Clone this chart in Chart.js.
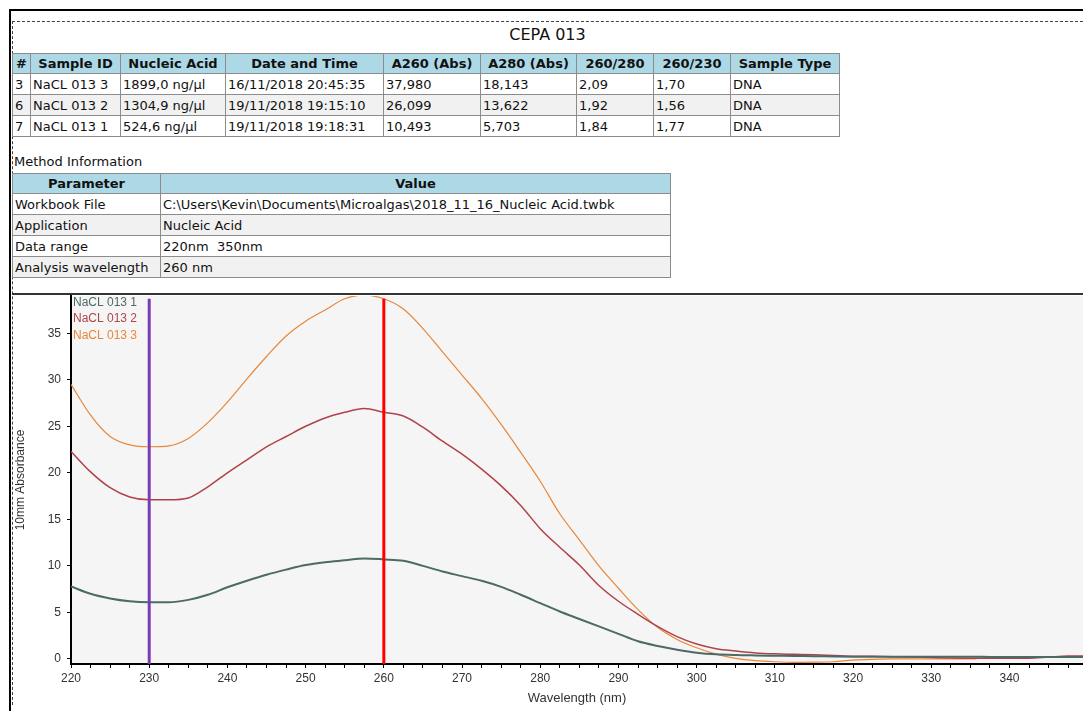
<!DOCTYPE html>
<html>
<head>
<meta charset="utf-8">
<title>CEPA 013</title>
<script src="https://cdn.jsdelivr.net/npm/chart.js@4/dist/chart.umd.min.js"></script>
<style>
  html, body { margin: 0; padding: 0; background: #fff; }
  body {
    width: 1083px; height: 711px; position: relative; overflow: hidden;
    font-family: "DejaVu Sans", Verdana, sans-serif; font-size: 13px; color: #111;
  }
  .frame-top { position: absolute; left: 9px; top: 9px; width: 1074px; height: 2px; background: #000; }
  .frame-left { position: absolute; left: 9px; top: 9px; width: 2px; height: 702px; background: #000; }
  .dash-top { position: absolute; left: 12px; top: 21px; width: 1071px; border-top: 1px dashed #444; }
  .dash-left { position: absolute; left: 12px; top: 21px; height: 684px; border-left: 1px dashed #444; }
  #title { position: absolute; left: 12px; width: 1071px; top: 25px; text-align: center; font-size: 16px; }
  table { position: absolute; border-collapse: collapse; table-layout: fixed; }
  td, th { border: 1px solid #8c8c8c; padding: 0 2px; white-space: pre; overflow: hidden; }
  th { background: #add8e6; font-weight: bold; text-align: center; height: 19px; }
  td { text-align: left; height: 20px; }
  tr.alt td { background: #f1f1f1; }
  #sampleTable { left: 12px; top: 53px; }
  #methodTable { left: 12px; top: 173px; }
  #methodLabel { position: absolute; left: 14px; top: 154px; }
  #chartBox { position: absolute; left: 12px; top: 293px; width: 1071px; height: 416px; border-top: 2px solid #333; }
</style>
</head>
<body>
<div class="frame-top"></div>
<div class="frame-left"></div>
<div class="dash-top"></div>
<div class="dash-left"></div>
<div id="title"></div>
<table id="sampleTable"></table>
<div id="methodLabel">Method Information</div>
<table id="methodTable"></table>
<div id="chartBox"><canvas id="spectrum"></canvas></div>

<script>
// Report header and tables
const reportTitle = 'CEPA 013';
const sampleHeaders = ['#', 'Sample ID', 'Nucleic Acid', 'Date and Time', 'A260 (Abs)', 'A280 (Abs)', '260/280', '260/230', 'Sample Type'];
const sampleColWidths = [18, 90, 105, 158, 97, 96, 77, 77, 109];
const sampleRows = [
  ['3', 'NaCL 013 3', '1899,0 ng/µl', '16/11/2018 20:45:35', '37,980', '18,143', '2,09', '1,70', 'DNA'],
  ['6', 'NaCL 013 2', '1304,9 ng/µl', '19/11/2018 19:15:10', '26,099', '13,622', '1,92', '1,56', 'DNA'],
  ['7', 'NaCL 013 1', '524,6 ng/µl', '19/11/2018 19:18:31', '10,493', '5,703', '1,84', '1,77', 'DNA']
];
const methodHeaders = ['Parameter', 'Value'];
const methodColWidths = [148, 510];
const methodRows = [
  ['Workbook File', 'C:\\Users\\Kevin\\Documents\\Microalgas\\2018_11_16_Nucleic Acid.twbk'],
  ['Application', 'Nucleic Acid'],
  ['Data range', '220nm  350nm'],
  ['Analysis wavelength', '260 nm']
];

// Spectrum data (10mm absorbance)
const wavelengths = [
  220, 222.5, 225, 227.5, 230, 232.5, 235, 237.5, 240, 242.5, 245, 247.5, 250, 252.5, 255, 257.5, 260,
  262.5, 265, 267.5, 270, 272.5, 275, 277.5, 280, 282.5, 285, 287.5, 290, 292.5, 295, 297.5, 300,
  302.5, 305, 307.5, 310, 312.5, 315, 317.5, 320, 322.5, 325, 327.5, 330, 332.5, 335, 337.5, 340, 342.5, 345, 347.5, 350
];
const seriesLabels = ['NaCL 013 1', 'NaCL 013 2', 'NaCL 013 3'];
const seriesColors = ['#4d6a66', '#b0434a', '#e8873a'];
const seriesWidths = [2, 1.5, 1.2];
const nacl0131 = [
  7.8, 7.0, 6.5, 6.2, 6.1, 6.1, 6.35, 6.9, 7.7, 8.4, 9.05, 9.6, 10.1, 10.4, 10.6, 10.8, 10.7,
  10.55, 10.0, 9.4, 8.9, 8.4, 7.75, 6.9, 6.0, 5.1, 4.3, 3.5, 2.7, 1.9, 1.4, 1.0, 0.68,
  0.5, 0.42, 0.38, 0.35, 0.32, 0.3, 0.27, 0.25, 0.25, 0.25, 0.25, 0.25, 0.25, 0.25, 0.22, 0.2, 0.2, 0.2, 0.2, 0.2
];
const nacl0132 = [
  22.3, 20.1, 18.4, 17.4, 17.1, 17.1, 17.3, 18.5, 20.0, 21.4, 22.8, 23.9, 25.0, 25.9, 26.5, 26.9, 26.5,
  26.1, 24.9, 23.4, 22.0, 20.4, 18.6, 16.5, 14.0, 12.0, 10.1, 7.9, 6.2, 4.8, 3.5, 2.4, 1.6,
  1.1, 0.85, 0.65, 0.55, 0.5, 0.45, 0.38, 0.3, 0.28, 0.25, 0.2, 0.15, 0.1, 0.08, 0.08, 0.08, 0.08, 0.2, 0.32, 0.32
];
const nacl0133 = [
  29.5, 26.2, 23.9, 23.0, 22.8, 22.9, 23.7, 25.4, 27.6, 30.1, 32.5, 34.7, 36.3, 37.5, 38.7, 39.1, 38.7,
  37.6, 35.5, 33.0, 30.5, 28.0, 25.2, 22.2, 19.1, 15.6, 12.8, 10.0, 7.6, 5.3, 3.4, 2.1, 1.2,
  0.52, 0.06, -0.18, -0.3, -0.36, -0.34, -0.3, -0.12, -0.04, 0.0, 0.0, 0.0, 0.0, 0.0, 0.18, 0.2, 0.22, 0.24, 0.25, 0.25
];

// Marker lines (baseline 230 nm, analysis 260 nm)
const markerWavelengths = [230, 260];
const markerColors = ['#7a3cb4', '#ff0000'];
const markerTop = 38.7;

// Axis ranges
const xMin = 220, xMax = 349.4;
const yMin = -0.54, yMax = 39.0;

function buildTable(el, headers, widths, rows) {
  let html = '<colgroup>' + widths.map(w => `<col style="width:${w}px">`).join('') + '</colgroup>';
  html += '<tr>' + headers.map(h => `<th>${h}</th>`).join('') + '</tr>';
  rows.forEach((r, i) => {
    html += `<tr${i % 2 === 1 ? ' class="alt"' : ''}>` + r.map(c => `<td>${c}</td>`).join('') + '</tr>';
  });
  el.innerHTML = html;
}

document.getElementById('title').textContent = reportTitle;
buildTable(document.getElementById('sampleTable'), sampleHeaders, sampleColWidths, sampleRows);
buildTable(document.getElementById('methodTable'), methodHeaders, methodColWidths, methodRows);

const seriesValues = [nacl0131, nacl0132, nacl0133];

// Plot area background
const plotBg = {
  id: 'plotBg',
  beforeDraw(chart) {
    const { ctx, chartArea: a } = chart;
    ctx.save();
    ctx.fillStyle = '#f5f5f5';
    ctx.fillRect(a.left, a.top, a.right - a.left, a.bottom - a.top);
    ctx.restore();
  }
};

// Sample names in the top-left corner of the plot
const legendText = {
  id: 'legendText',
  afterDatasetsDraw(chart) {
    const { ctx, chartArea } = chart;
    ctx.save();
    ctx.font = '12px "Liberation Sans", Arial, sans-serif';
    ctx.textBaseline = 'middle';
    chart.data.datasets.filter(d => d.sample).forEach((d, i) => {
      ctx.fillStyle = d.borderColor;
      ctx.fillText(d.label, chartArea.left + 2, chartArea.top + 6.7 + i * 16.3);
    });
    ctx.restore();
  }
};

const markerSets = markerWavelengths.map((w, i) => ({
  label: w + ' nm',
  data: [{ x: w, y: yMin }, { x: w, y: markerTop }],
  borderColor: markerColors[i],
  borderWidth: 3,
  pointRadius: 0
}));

const sampleSets = seriesLabels.map((name, i) => ({
  label: name,
  sample: true,
  data: wavelengths.map((w, j) => ({ x: w, y: seriesValues[i][j] })),
  borderColor: seriesColors[i],
  borderWidth: seriesWidths[i],
  pointRadius: 0,
  cubicInterpolationMode: 'monotone'
}));

const tickFont = { family: '"Liberation Sans", Arial, sans-serif', size: 12 };

new Chart(document.getElementById('spectrum').getContext('2d'), {
  type: 'line',
  data: { datasets: markerSets.concat(sampleSets) },
  options: {
    responsive: true,
    maintainAspectRatio: false,
    animation: false,
    layout: { padding: { top: 1, left: 0, right: 0, bottom: 0 } },
    plugins: {
      legend: { display: false },
      tooltip: { enabled: false }
    },
    scales: {
      x: {
        type: 'linear',
        min: xMin,
        max: xMax,
        border: { display: true, color: '#000', width: 2 },
        grid: { drawOnChartArea: false, drawTicks: true, tickLength: 4, color: '#000' },
        ticks: {
          stepSize: 2.5,
          includeBounds: false,
          autoSkip: false,
          maxRotation: 0,
          minRotation: 0,
          padding: 3,
          color: '#333',
          font: tickFont,
          callback: v => (v % 10 === 0 ? String(v) : '')
        },
        title: {
          display: true,
          text: 'Wavelength (nm)',
          color: '#333',
          font: { family: '"Liberation Sans", Arial, sans-serif', size: 13 },
          padding: { top: 0, bottom: 5 }
        },
        afterFit(s) {
          s.height = 47;
          s.paddingLeft = 0;
          s.paddingRight = 0;
        }
      },
      y: {
        min: yMin,
        max: yMax,
        border: { display: true, color: '#000', width: 2 },
        grid: { drawOnChartArea: false, drawTicks: true, tickLength: 4, color: '#000' },
        ticks: {
          stepSize: 5,
          includeBounds: false,
          padding: 6,
          color: '#333',
          font: tickFont
        },
        title: {
          display: true,
          text: '10mm Absorbance',
          color: '#333',
          font: { family: '"Liberation Sans", Arial, sans-serif', size: 12 },
          padding: { top: 1, bottom: 0 }
        },
        afterFit(s) {
          s.width = 59;
          s.paddingTop = 0;
          s.paddingBottom = 0;
        }
      }
    }
  },
  plugins: [plotBg, legendText]
});
</script>
</body>
</html>
